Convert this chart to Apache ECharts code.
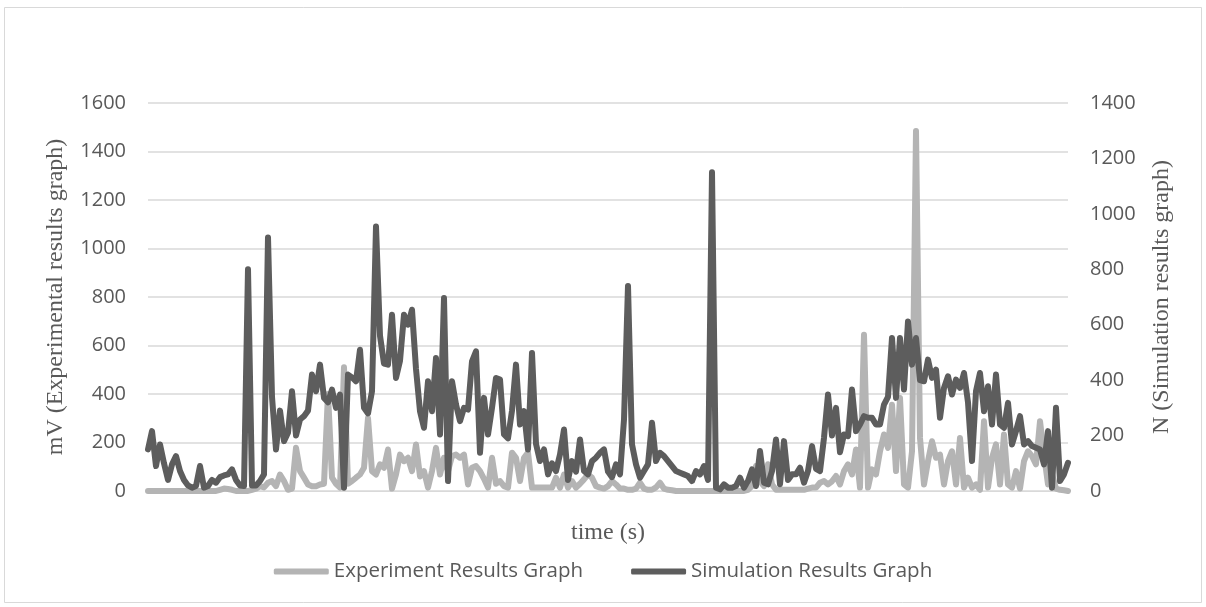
<!DOCTYPE html>
<html>
<head>
<meta charset="utf-8">
<script src="https://cdn.jsdelivr.net/npm/echarts@6/dist/echarts.min.js"></script>
<style>
html,body{margin:0;padding:0;background:#fff;}
#chart{width:1206px;height:607px;}
</style>
</head>
<body>
<div id="chart"></div>
<script>
// Experiment results (mV, left axis)
const experiment = [
0,0,0,0,0,0,0,0,0,0,
0,0,0,0,0,0,0,0,5,10,
8,5,0,0,0,0,5,10,20,15,
34,41,20,68,41,5,10,178,82,55,
27,20,20,27,30,400,55,30,14,510,
30,41,55,68,96,301,82,68,110,96,
171,10,68,150,123,137,82,192,60,82,
14,82,178,68,137,82,144,150,137,150,
27,96,103,82,50,14,137,30,41,20,
14,158,137,41,137,158,14,14,14,14,
14,14,55,14,68,14,41,14,30,48,
68,55,20,14,10,20,41,27,10,10,
5,5,10,34,10,5,5,15,34,10,
5,3,0,0,0,0,0,0,0,0,
0,0,0,0,0,0,0,0,0,0,
5,20,103,40,20,110,27,5,5,5,
5,5,5,5,5,10,14,14,34,41,
27,40,62,27,82,110,68,171,14,644,
14,89,68,164,233,178,356,82,384,27,
14,164,1485,219,27,123,205,137,150,27,
123,164,27,219,14,55,14,27,5,288,
14,137,192,27,233,27,14,82,10,123,
164,144,110,288,150,27,68,10,5,3,
0
];
// Simulation results (N, right axis)
const simulation = [
150,216,90,168,100,40,96,126,72,40,
20,12,18,90,12,18,40,30,50,56,
60,78,40,20,18,800,20,20,36,60,
915,340,150,290,180,210,360,200,258,270,
290,420,360,456,336,320,366,300,348,12,
420,410,396,510,300,280,360,954,560,460,
456,636,408,470,636,600,654,440,288,228,
396,288,480,204,696,36,396,312,252,300,
294,468,504,138,336,204,300,408,402,204,
190,290,456,240,288,150,498,170,108,150,
60,100,72,132,222,40,108,70,186,72,
60,108,120,138,150,70,50,96,60,258,
740,168,96,48,72,96,246,108,138,126,
108,90,72,66,60,54,36,72,60,90,
40,1150,12,6,24,12,12,18,48,12,
36,78,18,144,30,24,72,186,24,180,
40,60,60,84,30,72,162,80,72,192,
348,200,300,140,204,198,366,216,240,270,
264,264,240,240,312,340,552,336,552,366,
612,456,552,400,396,474,408,438,264,372,
414,348,402,372,426,320,108,360,426,288,
378,240,420,240,228,318,168,216,270,168,
180,162,156,150,96,216,12,300,36,60,
102
];
// time steps (category axis, labels hidden)
const timeSteps = experiment.map((_, i) => i + 1);

const leftTicks = {min: 0, max: 1600, interval: 200};
const rightTicks = {min: 0, max: 1400, interval: 200};

const chart = echarts.init(document.getElementById('chart'), null, {renderer: 'canvas'});
const labelFont = {color: '#595959', fontFamily: 'Open Sans', fontSize: 20};
const titleFont = {color: '#595959', fontFamily: 'Liberation Serif', fontSize: 24};
const plain = v => String(v);

chart.setOption({
  animation: false,
  backgroundColor: '#ffffff',
  graphic: [{
    type: 'rect', silent: true,
    shape: {x: 4.5, y: 7.5, width: 1197, height: 595},
    style: {fill: 'none', stroke: '#d9d9d9', lineWidth: 1}
  }],
  grid: {left: 148, right: 138, top: 103, bottom: 116, containLabel: false},
  legend: {
    bottom: 20, left: 'center',
    itemWidth: 55, itemHeight: 6, itemGap: 48,
    icon: 'roundRect',
    textStyle: {color: '#595959', fontFamily: 'Open Sans', fontSize: 20.5},
    data: ['Experiment Results Graph', 'Simulation Results Graph']
  },
  xAxis: {
    type: 'category', data: timeSteps, boundaryGap: false,
    name: 'time (s)', nameLocation: 'middle', nameGap: 30,
    nameTextStyle: titleFont,
    axisLine: {show: true, lineStyle: {color: '#d9d9d9', width: 1}},
    axisTick: {show: false}, axisLabel: {show: false}, splitLine: {show: false}
  },
  yAxis: [{
    type: 'value', min: leftTicks.min, max: leftTicks.max, interval: leftTicks.interval,
    name: 'mV (Experimental results graph)', nameLocation: 'middle', nameGap: 80, nameRotate: 90,
    nameTextStyle: titleFont,
    axisLine: {show: false}, axisTick: {show: false},
    axisLabel: Object.assign({margin: 22, formatter: plain}, labelFont),
    splitLine: {lineStyle: {color: '#d9d9d9', width: 1.5}}
  }, {
    type: 'value', min: rightTicks.min, max: rightTicks.max, interval: rightTicks.interval,
    position: 'right',
    name: 'N (Simulation results graph)', nameLocation: 'middle', nameGap: 82, nameRotate: 90,
    nameTextStyle: titleFont,
    axisLine: {show: false}, axisTick: {show: false},
    axisLabel: Object.assign({margin: 22, formatter: plain}, labelFont),
    splitLine: {show: false}
  }],
  series: [{
    name: 'Experiment Results Graph', type: 'line', yAxisIndex: 0,
    data: experiment, symbol: 'none', showSymbol: false,
    lineStyle: {color: '#b4b4b4', width: 6, cap: 'round', join: 'round'},
    itemStyle: {color: '#b4b4b4'}, z: 2
  }, {
    name: 'Simulation Results Graph', type: 'line', yAxisIndex: 1,
    data: simulation, symbol: 'none', showSymbol: false,
    lineStyle: {color: '#5d5d5d', width: 6, cap: 'round', join: 'round'},
    itemStyle: {color: '#5d5d5d'}, z: 3
  }]
});
</script>
</body>
</html>
